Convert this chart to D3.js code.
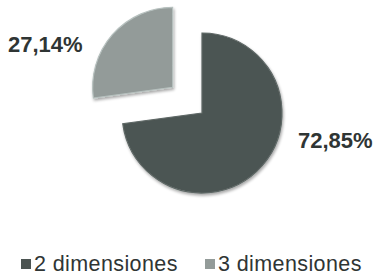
<!DOCTYPE html>
<html lang="es">
<head>
    <meta charset="UTF-8">
    <title>Dimensiones</title>
    <script src="https://d3js.org/d3.v7.min.js"></script>
    <style>
        body { margin: 0; background: #fff; }
        .label { font-family: "Liberation Sans", Arial, sans-serif; font-size: 22px; font-weight: bold; fill: #2f3534; }
        .legend { font-family: "Liberation Sans", Arial, sans-serif; font-size: 21.5px; fill: #2f3534; letter-spacing: 0.4px; }
    </style>
</head>
<body>
<svg width="378" height="276"></svg>
<script>
    // datos del gráfico
    const categories = ["2 dimensiones", "3 dimensiones"];
    const values = [72.85, 27.14];
    const colors = ["#4c5452", "#939b99"];

    const svg = d3.select("svg");
    const cx = 202, cy = 113, radius = 80;
    const explode = [0, 39];

    const esLocale = d3.formatLocale({decimal: ",", thousands: ".", grouping: [3], currency: ["", "€"]});
    const fmt = esLocale.format(".2f");

    const defs = svg.append("defs");
    const shadow = defs.append("filter").attr("id", "shadow")
        .attr("x", "-20%").attr("y", "-20%").attr("width", "140%").attr("height", "140%");
    shadow.append("feGaussianBlur").attr("in", "SourceAlpha").attr("stdDeviation", 1.6).attr("result", "blur");
    shadow.append("feOffset").attr("dx", 1).attr("dy", 2).attr("result", "off");
    shadow.append("feComponentTransfer").append("feFuncA").attr("type", "linear").attr("slope", 0.35);
    const merge = shadow.append("feMerge");
    merge.append("feMergeNode");
    merge.append("feMergeNode").attr("in", "SourceGraphic");

    const pie = d3.pie().sort(null).value(d => d);
    const arcs = pie(values);
    const arc = d3.arc().innerRadius(0).outerRadius(radius);

    function sliceCenter(d, i) {
        const mid = (d.startAngle + d.endAngle) / 2;
        return [cx + Math.sin(mid) * explode[i], cy - Math.cos(mid) * explode[i]];
    }

    const g = svg.append("g");
    g.selectAll("path")
        .data(arcs)
        .enter().append("path")
        .attr("transform", (d, i) => "translate(" + sliceCenter(d, i) + ")")
        .attr("d", arc)
        .attr("fill", (d, i) => colors[i])
        .attr("stroke", (d, i) => d3.color(colors[i]).brighter(0.6))
        .attr("stroke-width", 1.2)
        .attr("filter", "url(#shadow)");

    // etiquetas de porcentaje
    svg.selectAll("text.label")
        .data(arcs)
        .enter().append("text")
        .attr("class", "label")
        .attr("text-anchor", (d, i) => i === 0 ? "start" : "end")
        .attr("x", (d, i) => sliceCenter(d, i)[0] + (i === 0 ? radius + 16 : -radius - 10))
        .attr("y", (d, i) => sliceCenter(d, i)[1] + (i === 0 ? 35 : -35))
        .text(d => fmt(d.data) + "%");

    // leyenda
    const legendX = [21, 205];
    const legend = svg.append("g").selectAll("g")
        .data(categories)
        .enter().append("g")
        .attr("transform", (d, i) => "translate(" + legendX[i] + ",271)");
    legend.append("rect")
        .attr("x", 0).attr("y", -12)
        .attr("width", 10).attr("height", 10)
        .attr("fill", (d, i) => colors[i]);
    legend.append("text")
        .attr("class", "legend")
        .attr("x", 13)
        .text(d => d);
</script>
</body>
</html>
